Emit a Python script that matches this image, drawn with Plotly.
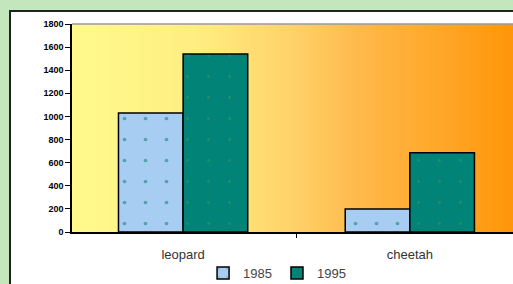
import plotly.graph_objects as go

categories = ["leopard", "cheetah"]
series_names = ["1985", "1995"]
values_1985 = [1030, 200]
values_1995 = [1540, 685]
y_ticks = [0, 200, 400, 600, 800, 1000, 1200, 1400, 1600, 1800]

W, H = 513, 284
ML, MR, MT, MB = 72, 0, 24, 52

fig = go.Figure()
fig.add_trace(go.Bar(
    x=categories, y=values_1985, name=series_names[0],
    marker=dict(color="#A8CDF2", line=dict(color="black", width=1.5),
                pattern=dict(shape=".", fgcolor="#007A68", size=21, solidity=0.025)),
))
fig.add_trace(go.Bar(
    x=categories, y=values_1995, name=series_names[1],
    marker=dict(color="#018378", line=dict(color="black", width=1.5),
                pattern=dict(shape=".", fgcolor="#3C9A62", size=21, solidity=0.015)),
))

shapes = []
# outer white panel with dark border
shapes.append(dict(type="rect", xref="paper", yref="paper",
                   x0=-(ML - 10) / (W - ML - MR), x1=1.2,
                   y0=-(MB + 20) / (H - MT - MB), y1=1 + (MT - 11) / (H - MT - MB),
                   fillcolor="white", line=dict(color="#222222", width=2), layer="below"))

# gradient plot background (horizontal)
stops = [(0.0, (255, 250, 140)), (0.28, (255, 238, 130)), (0.5, (255, 210, 105)),
         (0.65, (255, 185, 75)), (1.0, (255, 150, 10))]

def col(t):
    for (t0, c0), (t1, c1) in zip(stops[:-1], stops[1:]):
        if t0 <= t <= t1:
            f = (t - t0) / (t1 - t0) if t1 > t0 else 0
            return "rgb(%d,%d,%d)" % tuple(round(a + (b - a) * f) for a, b in zip(c0, c1))
    return "rgb(%d,%d,%d)" % stops[-1][1]

N = 120
for i in range(N):
    shapes.append(dict(type="rect", xref="x domain", yref="y domain",
                       x0=i / N, x1=(i + 1) / N + 0.002, y0=0, y1=1,
                       fillcolor=col((i + 0.5) / N), line=dict(width=0), layer="below"))
# top border line of plot area
shapes.append(dict(type="line", xref="x domain", yref="y domain", x0=0, x1=1, y0=1, y1=1,
                   line=dict(color="#9a9a9a", width=1.5), layer="below"))

fig.update_layout(
    width=W, height=H,
    margin=dict(l=ML, r=MR, t=MT, b=MB, autoexpand=False),
    paper_bgcolor="#C4E6BC",
    plot_bgcolor="rgba(0,0,0,0)",
    barmode="group", bargap=0.43, bargroupgap=0,
    shapes=shapes,
    showlegend=True,
    legend=dict(orientation="h", x=0.465, xanchor="center", y=-0.125, yanchor="top",
                font=dict(family="Liberation Sans", size=13, color="#444444"),
                bgcolor="rgba(0,0,0,0)", itemwidth=30, tracegroupgap=0),
    font=dict(family="Liberation Sans"),
)
fig.update_xaxes(range=[-0.49, 1.455], showgrid=False, showline=True, linecolor="black",
                 linewidth=1.5, ticks="outside", tickson="boundaries", ticklen=4,
                 tickcolor="black", ticklabelstandoff=10, automargin=False,
                 tickfont=dict(family="Liberation Sans", size=13, color="#333333"))
fig.update_yaxes(range=[0, 1800], tickvals=y_ticks, ticktext=[str(v) for v in y_ticks],
                 showgrid=False, zeroline=False, showline=True, linecolor="black",
                 linewidth=1.5, ticks="outside", ticklen=5, tickcolor="black", automargin=False,
                 tickfont=dict(family="Liberation Sans", size=9, color="black", weight="bold"))

fig.write_html("out.html", config={"displayModeBar": False},
               post_script="document.body.style.margin='0';document.body.style.overflow='hidden';")
